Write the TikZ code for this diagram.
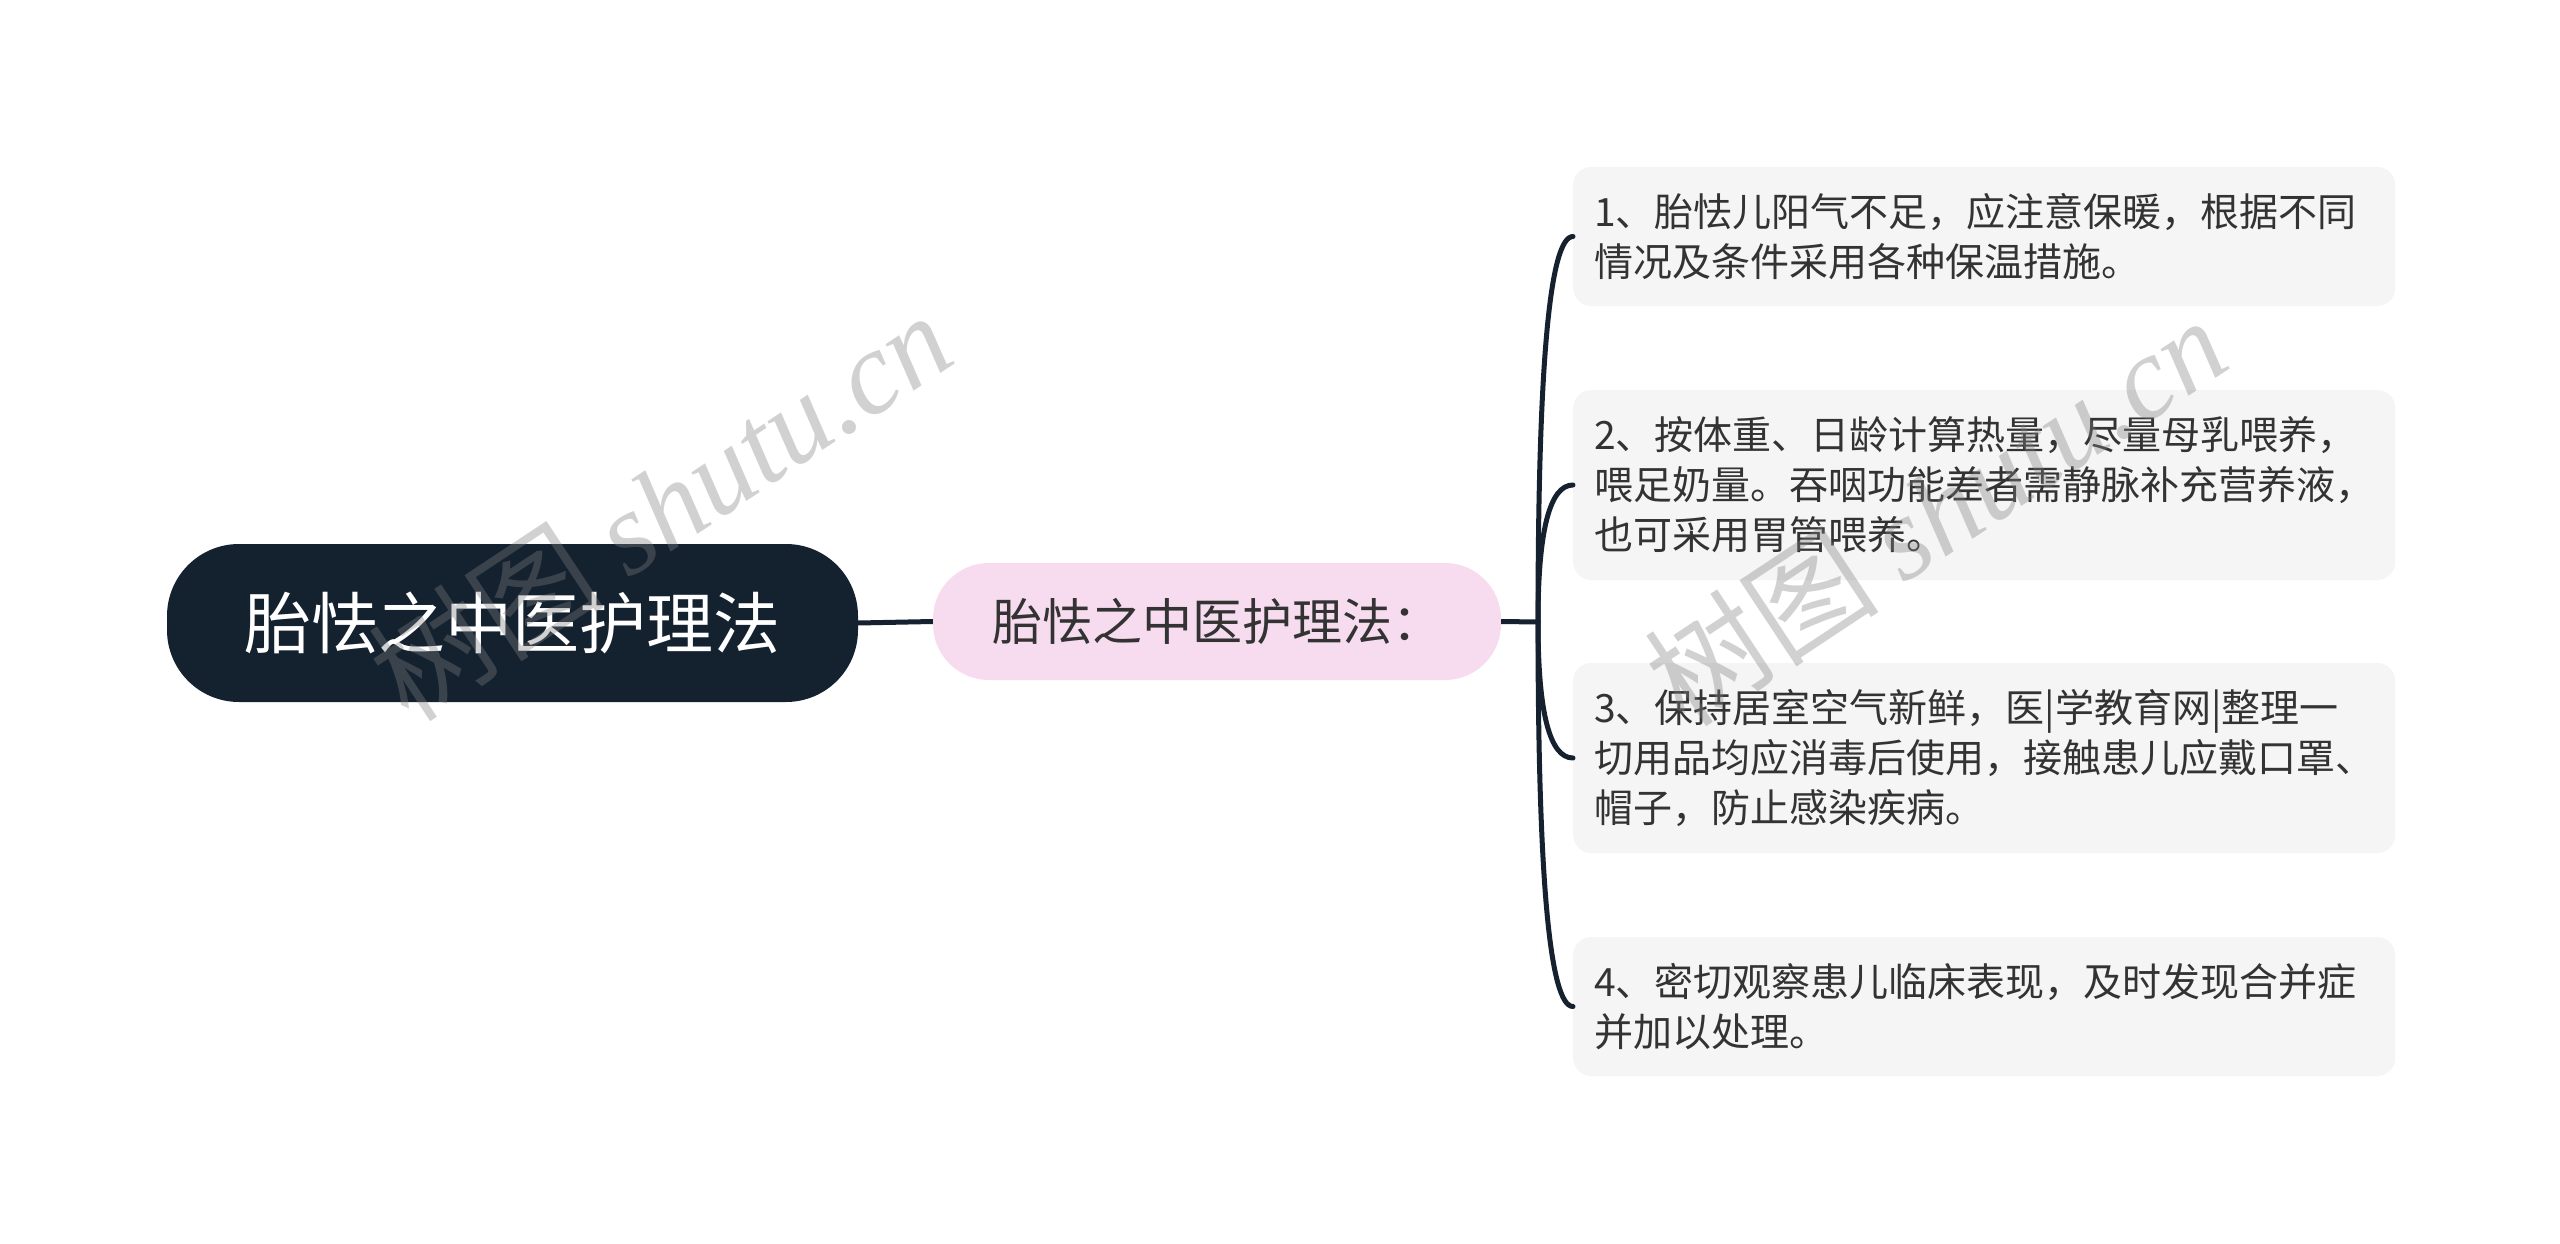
\documentclass[tikz,border=0pt]{standalone}
\usepackage{fontspec}
\setmainfont{Noto Sans CJK SC}
\newfontfamily\cjk{Noto Sans CJK SC}
\newfontfamily\wmserif{Liberation Serif}
\definecolor{navy}{HTML}{14212F}
\definecolor{linec}{HTML}{16212F}
\definecolor{pinkc}{HTML}{F7DCF0}
\definecolor{boxc}{HTML}{F5F5F5}
\definecolor{txt}{HTML}{333333}
\tikzset{
  rootnode/.style={fill=navy, text=white, rounded corners=72pt, minimum width=691pt, minimum height=158pt, inner sep=0pt, font=\cjk\fontsize{67}{72}\selectfont},
  subnode/.style={fill=pinkc, text=txt, rounded corners=56pt, minimum width=568pt, minimum height=117pt, inner sep=0pt, font=\cjk\fontsize{50}{55}\selectfont},
  leafbox/.style={fill=boxc, text=txt, rounded corners=18pt, anchor=west, minimum width=822pt, text width=780pt, inner xsep=21pt, inner ysep=0pt, align=left, font=\cjk\fontsize{39}{50}\selectfont},
  conn/.style={draw=linec, line width=5pt},
  wm/.style={text=gray, opacity=0.36, font=\cjk\fontsize{118}{124}\selectfont, inner sep=0pt}
}
\begin{document}
\begin{tikzpicture}[x=1pt,y=-1pt]
\useasboundingbox[fill=white] (0,0) rectangle (2560,1244);
% nodes
\node[rootnode] (root) at (512.5,623) {胎怯之中医护理法};
\node[subnode] (sub) at (1217,621.5) {胎怯之中医护理法：};
\node[leafbox, minimum height=139pt] (b1) at (1573,236.5) {1、胎怯儿阳气不足，应注意保暖，根据不同\\情况及条件采用各种保温措施。};
\node[leafbox, minimum height=190pt] (b2) at (1573,485) {2、按体重、日龄计算热量，尽量母乳喂养，\\喂足奶量。吞咽功能差者需静脉补充营养液，\\也可采用胃管喂养。};
\node[leafbox, minimum height=190pt] (b3) at (1573,758) {3、保持居室空气新鲜，医|学教育网|整理一\\切用品均应消毒后使用，接触患儿应戴口罩、\\帽子，防止感染疾病。};
\node[leafbox, minimum height=139pt] (b4) at (1573,1006.5) {4、密切观察患儿临床表现，及时发现合并症\\并加以处理。};
% connectors
\coordinate (j) at (1538,622);
\draw[conn] (root.east) -- (sub.west);
\draw[conn] (sub.east) -- (j);
\draw[conn, line cap=round] (j) .. controls (1538,365) and (1549.7,236.5) .. (b1.west);
\draw[conn, line cap=round] (j) .. controls (1538,530.7) and (1549.7,485) .. (b2.west);
\draw[conn, line cap=round] (j) .. controls (1538,712.7) and (1549.7,758) .. (b3.west);
\draw[conn, line cap=round] (j) .. controls (1538,878.3) and (1549.7,1006.5) .. (b4.west);
% watermarks
\node[wm, rotate=33.5] (wm1) at (660,505) {树图 {\wmserif\itshape shutu.cn}};
\node[wm, rotate=33.5] (wm2) at (1935,510) {树图 {\wmserif\itshape shutu.cn}};
\end{tikzpicture}
\end{document}
